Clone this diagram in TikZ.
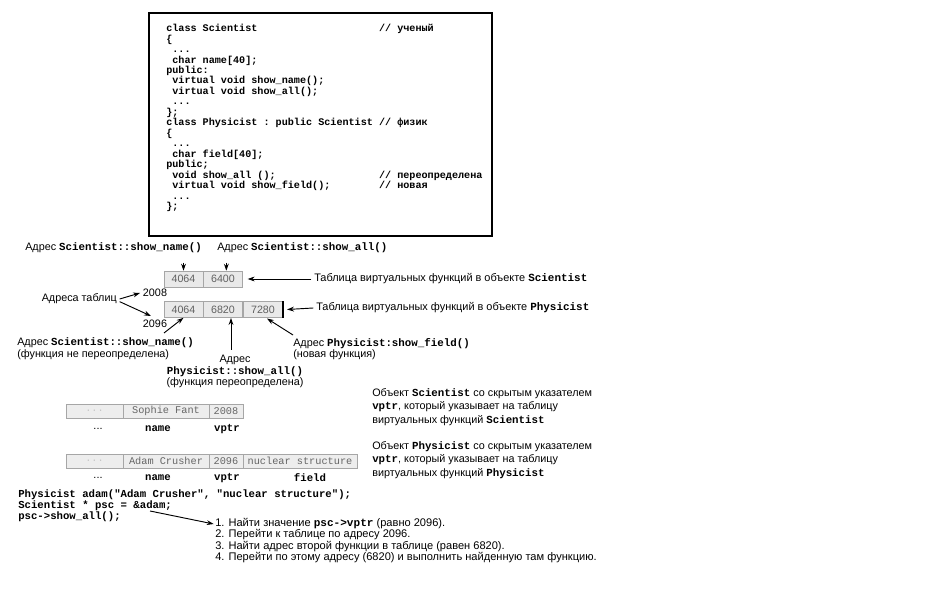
\documentclass[tikz,border=0pt]{standalone}
\usepackage{fontspec}
\setmainfont{Liberation Sans}
\setmonofont{Liberation Mono}
\usetikzlibrary{arrows.meta}
\newcommand\cb[1]{{\ttfamily\bfseries #1}}
\newcommand\ind{\hphantom{x}}
\newcommand\col[1]{\makebox[21em][l]{#1}}
\begin{document}
\begin{tikzpicture}[x=0.75pt,y=-0.75pt,
  lbl/.style={font=\fontsize{8.1}{8.6}\selectfont, inner sep=0pt, align=left},
  arr/.style={-{Stealth[length=5.2pt,width=3.6pt]}, line width=0.7pt},
  vcell/.style={draw=gray!70, fill=gray!17, text=gray!75!black, minimum height=12pt, minimum width=29.6pt, inner sep=0pt, font=\fontsize{8}{8}\selectfont},
  ocell/.style={draw=gray!70, fill=gray!14, text=gray!80!black, minimum height=10.5pt, inner sep=0pt, font=\fontsize{7.7}{7.7}\ttfamily},
  under/.style={font=\fontsize{8}{8}\ttfamily\bfseries, inner sep=0pt}]
\fill[white] (0,0) rectangle (940,616);
\useasboundingbox (0,0) rectangle (940,616);

% code box
\node[draw, line width=1.6pt, anchor=north west, minimum width=257pt, minimum height=167pt, inner sep=0pt] (box) at (148,12) {};
\node[anchor=north west, inner sep=0pt, align=left, font=\fontsize{7.6}{7.85}\ttfamily\bfseries] (code) at (166,24) {%
\col{class Scientist}// ученый\\
\{\\
\ind...\\
\ind char name[40];\\
public:\\
\ind virtual void show\_name();\\
\ind virtual void show\_all();\\
\ind...\\
\};\\
\col{class Physicist : public Scientist}// физик\\
\{\\
\ind...\\
\ind char field[40];\\
public;\\
\col{\ind void show\_all ();}// переопределена\\
\col{\ind virtual void show\_field();}// новая\\
\ind...\\
\};};

% address labels on top
\node[lbl, anchor=west] (lA) at (25,248) {Адрес \cb{Scientist::show\_name()}};
\node[lbl, anchor=west] (lB) at (217,248) {Адрес \cb{Scientist::show\_all()}};

% Scientist vtable
\node[vcell] (s1) at (183.5,279) {4064};
\node[vcell] (s2) at (223,279) {6400};
% Physicist vtable
\node[vcell] (p1) at (183.5,309.5) {4064};
\node[vcell] (p2) at (223,309.5) {6820};
\node[vcell] (p3) at (263,309.5) {7280};
\draw[line width=0.9pt] (p3.north east) -- (p3.south east);

\draw[arr] ([yshift=6pt]s1.north) -- (s1.north);
\draw[arr] ([xshift=2.5pt,yshift=6pt]s2.north) -- ([xshift=2.5pt]s2.north);

\node[lbl, anchor=west, font=\fontsize{8.2}{8.6}\selectfont] (tS) at (314,279) {Таблица виртуальных функций в объекте \cb{Scientist}};
\node[lbl, anchor=west, font=\fontsize{8.2}{8.6}\selectfont] (tP) at (316,308) {Таблица виртуальных функций в объекте \cb{Physicist}};
\draw[arr] ([xshift=-2pt]tS.west) -- ([xshift=3.5pt]s2.east);
\draw[arr] ([xshift=-2pt]tP.west) -- ([xshift=3pt]p3.east);

% table addresses
\node[lbl, anchor=east] (tA) at (117,299) {Адреса таблиц};
\node[lbl] (n08) at (155,293) {2008};
\node[lbl] (n96) at (155,324) {2096};
\coordinate (a96) at (151,316);
\draw[arr] ([xshift=2pt]tA.east) -- ([xshift=-2pt]n08.west);
\draw[arr] ([xshift=2pt,yshift=-2pt]tA.east) -- (a96);

% lower address labels
\node[lbl, anchor=west] (lC) at (17,348.5) {Адрес \cb{Scientist::show\_name()}\\(функция не переопределена)};
\coordinate (cC) at (164,333);
\draw[arr] (cC) -- (p1.south);

\node[lbl, align=center, font=\fontsize{8.1}{8.6}\selectfont] (lD) at (235,371.5) {Адрес\\\cb{Physicist::show\_all()}\\(функция переопределена)};
\coordinate (cD) at (231,350);
\coordinate (hD) at (231,318);
\draw[arr] (cD) -- (hD);

\node[lbl, anchor=west] (lE) at (293,349) {Адрес \cb{Physicist:show\_field()}\\(новая функция)};
\coordinate (cE) at (293,335);
\coordinate (hE) at (267,318.5);
\draw[arr] (cE) -- (hE);

% right descriptions
\node[lbl, anchor=north west, font=\fontsize{8.1}{10.1}\selectfont] (oS) at (372,388) {Объект \cb{Scientist} со скрытым указателем\\\cb{vptr}, который указывает на таблицу\\виртуальных функций \cb{Scientist}};
\node[lbl, anchor=north west, font=\fontsize{8.1}{10.1}\selectfont] (oP) at (372,441) {Объект \cb{Physicist} со скрытым указателем\\\cb{vptr}, который указывает на таблицу\\виртуальных функций \cb{Physicist}};

% object tables
\node[ocell, minimum width=42.75pt, text=gray!45] (os1) at (94.5,411) {...};
\node[ocell, minimum width=64.5pt] (os2) at (166,411) {Sophie Fant};
\node[ocell, minimum width=25.5pt] (os3) at (226,411) {2008};
\node[lbl] (u1) at (98,429) {...};
\node[under] (u2) at (158,429) {name};
\node[under] (u3) at (227,429) {vptr};

\node[ocell, minimum width=42.75pt, text=gray!45] (op1) at (94.5,461) {...};
\node[ocell, minimum width=64.5pt] (op2) at (166,461) {Adam Crusher};
\node[ocell, minimum width=25.5pt] (op3) at (226,461) {2096};
\node[ocell, minimum width=85.5pt] (op4) at (300,461) {nuclear structure};
\node[lbl] (v1) at (98,478) {...};
\node[under] (v2) at (158,478) {name};
\node[under] (v3) at (227,478) {vptr};
\node[under] (v4) at (310,478) {field};

% bottom code
\node[anchor=north west, inner sep=0pt, align=left, font=\fontsize{8}{7.9}\ttfamily\bfseries] (bc) at (18,490) {%
Physicist adam("Adam Crusher", "nuclear structure");\\
Scientist * psc = \&adam;\\
psc->show\_all();};
\coordinate (cF) at (150,511);
\node[lbl, anchor=north west, font=\fontsize{8.3}{8.5}\selectfont] (steps) at (215,518) {%
1. Найти значение \cb{psc->vptr} (равно 2096).\\
2. Перейти к таблице по адресу 2096.\\
3. Найти адрес второй функции в таблице (равен 6820).\\
4. Перейти по этому адресу (6820) и выполнить найденную там функцию.};
\draw[arr] (cF) -- ([xshift=-1pt,yshift=-4.5pt]steps.north west);
\end{tikzpicture}
\end{document}
